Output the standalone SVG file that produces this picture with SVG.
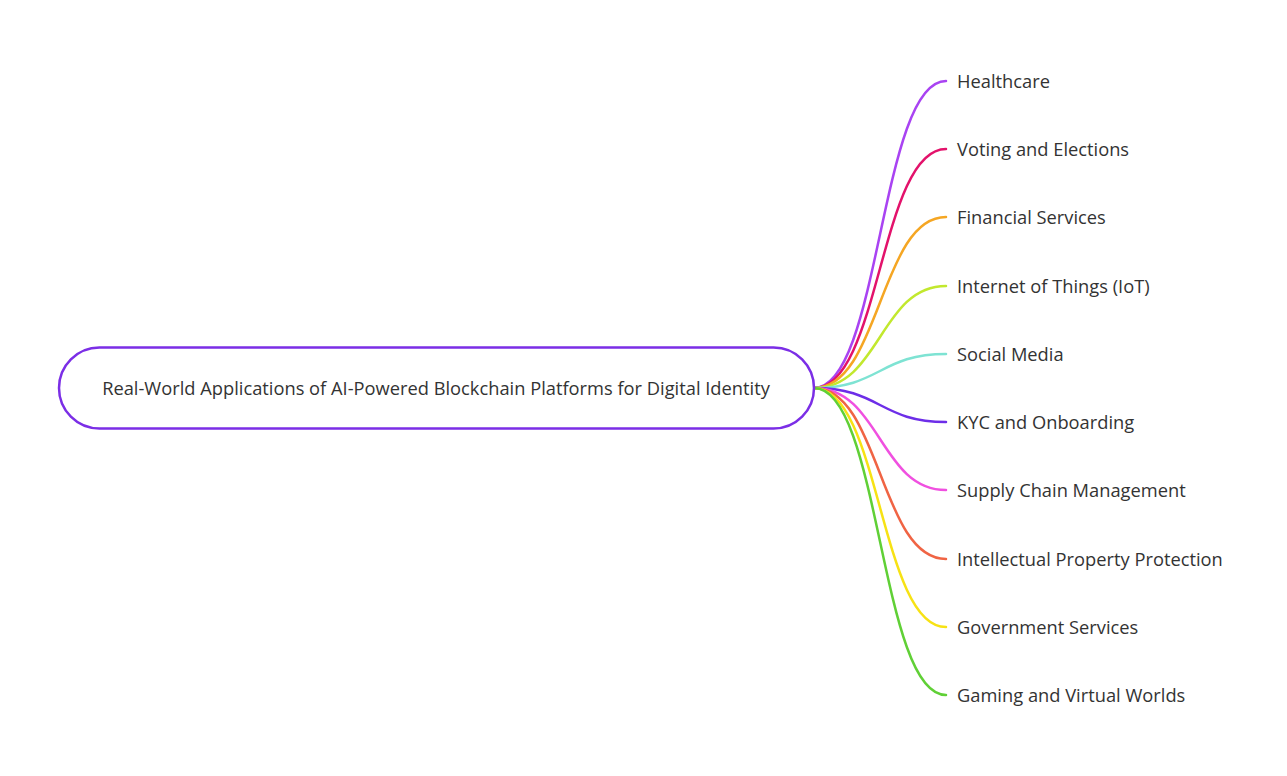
<svg xmlns="http://www.w3.org/2000/svg" width="1287" height="776" viewBox="0 0 1287 776">
<style>
text{font-family:"Open Sans","Noto Sans","Liberation Sans",sans-serif;font-size:18.3px;fill:#333}
.c{fill:none;stroke-width:2.5;stroke-linecap:round}
</style>
<rect width="1287" height="776" fill="#fff"/>
<g id="connectors">
<path class="c" stroke="#a943f2" d="M814,388 C880,388 880,81 946,81"/>
<path class="c" stroke="#e3126b" d="M814,388 C880,388 880,149 946,149"/>
<path class="c" stroke="#f5a623" d="M814,388 C880,388 880,217 946,217"/>
<path class="c" stroke="#c2e82e" d="M814,388 C880,388 880,286 946,286"/>
<path class="c" stroke="#7ee3d3" d="M814,388 C880,388 880,354 946,354"/>
<path class="c" stroke="#6d2ee8" d="M814,388 C880,388 880,422 946,422"/>
<path class="c" stroke="#f050e0" d="M814,388 C880,388 880,490 946,490"/>
<path class="c" stroke="#f06444" d="M814,388 C880,388 880,559 946,559"/>
<path class="c" stroke="#f7e214" d="M814,388 C880,388 880,627 946,627"/>
<path class="c" stroke="#60d036" d="M814,388 C880,388 880,695 946,695"/>
</g>
<g id="root">
<rect x="59" y="347.5" width="755" height="81" rx="40.5" fill="#fff" stroke="#7b2ee6" stroke-width="2.5"/>
<text x="436" y="394.5" text-anchor="middle">Real-World Applications of AI-Powered Blockchain Platforms for Digital Identity</text>
</g>
<g id="n1"><text x="957" y="87.5">Healthcare</text></g>
<g id="n2"><text x="957" y="155.5">Voting and Elections</text></g>
<g id="n3"><text x="957" y="223.5">Financial Services</text></g>
<g id="n4"><text x="957" y="292.5">Internet of Things (IoT)</text></g>
<g id="n5"><text x="957" y="360.5">Social Media</text></g>
<g id="n6"><text x="957" y="428.5">KYC and Onboarding</text></g>
<g id="n7"><text x="957" y="496.5">Supply Chain Management</text></g>
<g id="n8"><text x="957" y="565.5">Intellectual Property Protection</text></g>
<g id="n9"><text x="957" y="633.5">Government Services</text></g>
<g id="n10"><text x="957" y="701.5">Gaming and Virtual Worlds</text></g>
</svg>
